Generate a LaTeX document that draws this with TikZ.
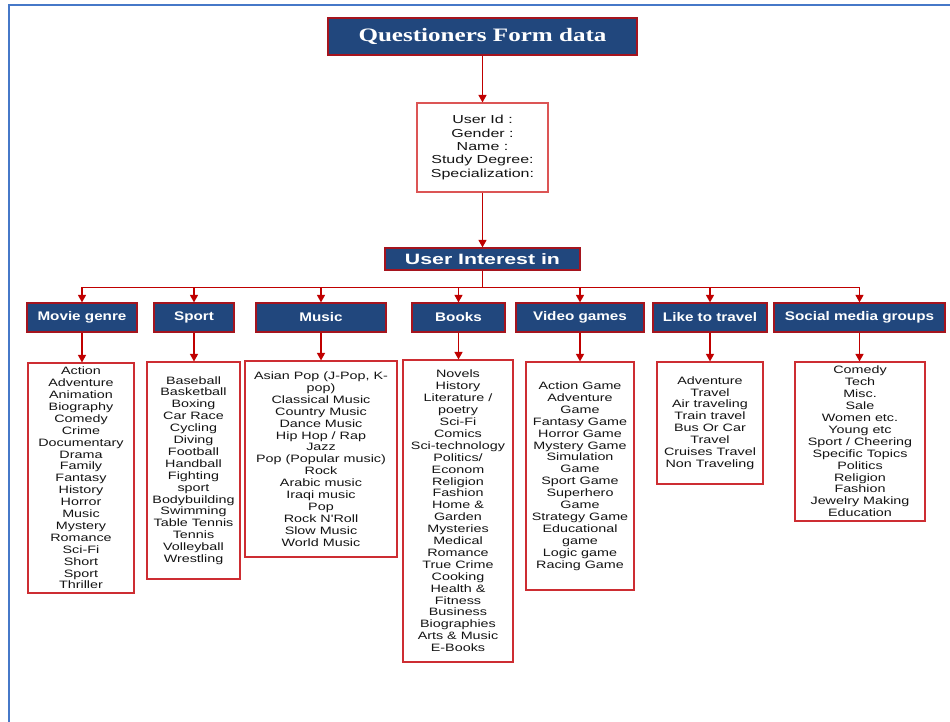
\documentclass[tikz,border=0pt]{standalone}
\usepackage{fontspec}
\setmainfont{Liberation Sans}
\newfontfamily\listfont[FakeStretch=1.34]{Liberation Sans}
\newfontfamily\userfont[FakeStretch=1.38]{Liberation Sans}
\newfontfamily\hdrfont[FakeStretch=1.22]{Liberation Sans}
\newfontfamily\uifont[FakeStretch=1.42]{Liberation Sans}
\newfontfamily\titlefont[FakeStretch=1.32]{Liberation Serif}
\usetikzlibrary{arrows.meta}
\definecolor{navy}{RGB}{33,71,125}
\definecolor{connc}{RGB}{192,0,0}
\definecolor{hbord}{RGB}{165,20,30}
\definecolor{lbord}{RGB}{205,45,50}
\definecolor{ubord}{RGB}{220,85,85}
\definecolor{framec}{RGB}{70,120,200}
\begin{document}
\begin{tikzpicture}[x=1pt,y=-1pt,
  hdrbox/.style={draw=hbord, line width=1.2pt, fill=navy, text=white, inner sep=0pt,
    minimum height=29pt, font=\hdrfont\fontsize{12.5}{14}\selectfont\bfseries},
  listbox/.style={draw=lbord, line width=1.1pt, fill=white, inner sep=0pt, align=center,
    text=black!92, font=\listfont\fontsize{10.7}{11.9}\selectfont},
  connl/.style={draw=connc, line width=1.3pt},
  arr/.style={connl, -{Triangle[width=8pt,length=7.5pt]}}]
\useasboundingbox (0,0) rectangle (950,722);
\draw[framec, line width=1.2pt] (9,722) -- (9,5) -- (950,5);

% top
\node[draw=hbord, line width=1.2pt, fill=navy, text=white, inner sep=0pt,
  minimum width=309pt, minimum height=37pt,
  font=\titlefont\fontsize{19}{22}\selectfont\bfseries] (title) at (482.5,36.5) {Questioners Form data};
\node[draw=ubord, line width=1.1pt, fill=white, inner sep=0pt, align=center,
  minimum width=131pt, minimum height=89pt, text=black!92,
  font=\userfont\fontsize{11.6}{13.3}\selectfont] (user) at (482.5,147.5)
  {User Id :\\Gender :\\Name :\\Study Degree:\\Specialization:};
\node[hdrbox, minimum width=195pt, minimum height=22pt,
  font=\uifont\fontsize{15}{17}\selectfont\bfseries] (ui) at (482.5,259) {User Interest in};

% headers
\node[hdrbox, minimum width=110pt] (hm)  at (82,317.5)    {Movie genre};
\node[hdrbox, minimum width=80pt]  (hs)  at (194,317.5)   {Sport};
\node[hdrbox, minimum width=130pt] (hmu) at (321,317.5)   {Music};
\node[hdrbox, minimum width=93pt]  (hb)  at (458.5,317.5) {Books};
\node[hdrbox, minimum width=128pt] (hv)  at (580,317.5)   {Video games};
\node[hdrbox, minimum width=114pt] (ht)  at (710,317.5)   {Like to travel};
\node[hdrbox, minimum width=171pt] (hso) at (859.5,317.5) {Social media groups};

% lists
\node[listbox, minimum width=106pt, minimum height=230pt] (lm) at (81,478)
 {Action\\Adventure\\Animation\\Biography\\Comedy\\Crime\\Documentary\\Drama\\Family\\Fantasy\\History\\Horror\\Music\\Mystery\\Romance\\Sci-Fi\\Short\\Sport\\Thriller};
\node[listbox, minimum width=93pt, minimum height=217pt] (ls) at (193.5,470.5)
 {Baseball\\Basketball\\Boxing\\Car Race\\Cycling\\Diving\\Football\\Handball\\Fighting\\sport\\Bodybuilding\\Swimming\\Table Tennis\\Tennis\\Volleyball\\Wrestling};
\node[listbox, minimum width=152pt, minimum height=196pt] (lmu) at (321,459)
 {Asian Pop (J-Pop, K-\\pop)\\Classical Music\\Country Music\\Dance Music\\Hip Hop / Rap\\Jazz\\Pop (Popular music)\\Rock\\Arabic music\\Iraqi music\\Pop\\Rock N'Roll\\Slow Music\\World Music};
\node[listbox, minimum width=110pt, minimum height=302pt] (lb) at (458,511)
 {Novels\\History\\Literature /\\poetry\\Sci-Fi\\Comics\\Sci-technology\\Politics/\\Econom\\Religion\\Fashion\\Home \&\\Garden\\Mysteries\\Medical\\Romance\\True Crime\\Cooking\\Health \&\\Fitness\\Business\\Biographies\\Arts \& Music\\E-Books};
\node[listbox, minimum width=108pt, minimum height=228pt] (lv) at (580,476)
 {Action Game\\Adventure\\Game\\Fantasy Game\\Horror Game\\Mystery Game\\Simulation\\Game\\Sport Game\\Superhero\\Game\\Strategy Game\\Educational\\game\\Logic game\\Racing Game};
\node[listbox, minimum width=106pt, minimum height=122pt] (lt) at (710,423)
 {Adventure\\Travel\\Air traveling\\Train travel\\Bus Or Car\\Travel\\Cruises Travel\\Non Traveling};
\node[listbox, minimum width=130pt, minimum height=159pt] (lso) at (860,441.5)
 {Comedy\\Tech\\Misc.\\Sale\\Women etc.\\Young etc\\Sport / Cheering\\Specific Topics\\Politics\\Religion\\Fashion\\Jewelry Making\\Education};

% connectors
\draw[arr] (title) -- (user);
\draw[arr] (user) -- (ui);
\draw[connl, line width=1.8pt] (ui.south) -- ++(0,17) coordinate (bus);
\foreach \h in {hm,hs,hmu,hb,hv,ht,hso}
  \draw[arr] (bus) -| (\h.north);
\foreach \h/\l in {hm/lm,hs/ls,hmu/lmu,hb/lb,hv/lv,ht/lt,hso/lso}
  \draw[arr] (\h.south) -- (\h.south |- \l.north);
\end{tikzpicture}
\end{document}
